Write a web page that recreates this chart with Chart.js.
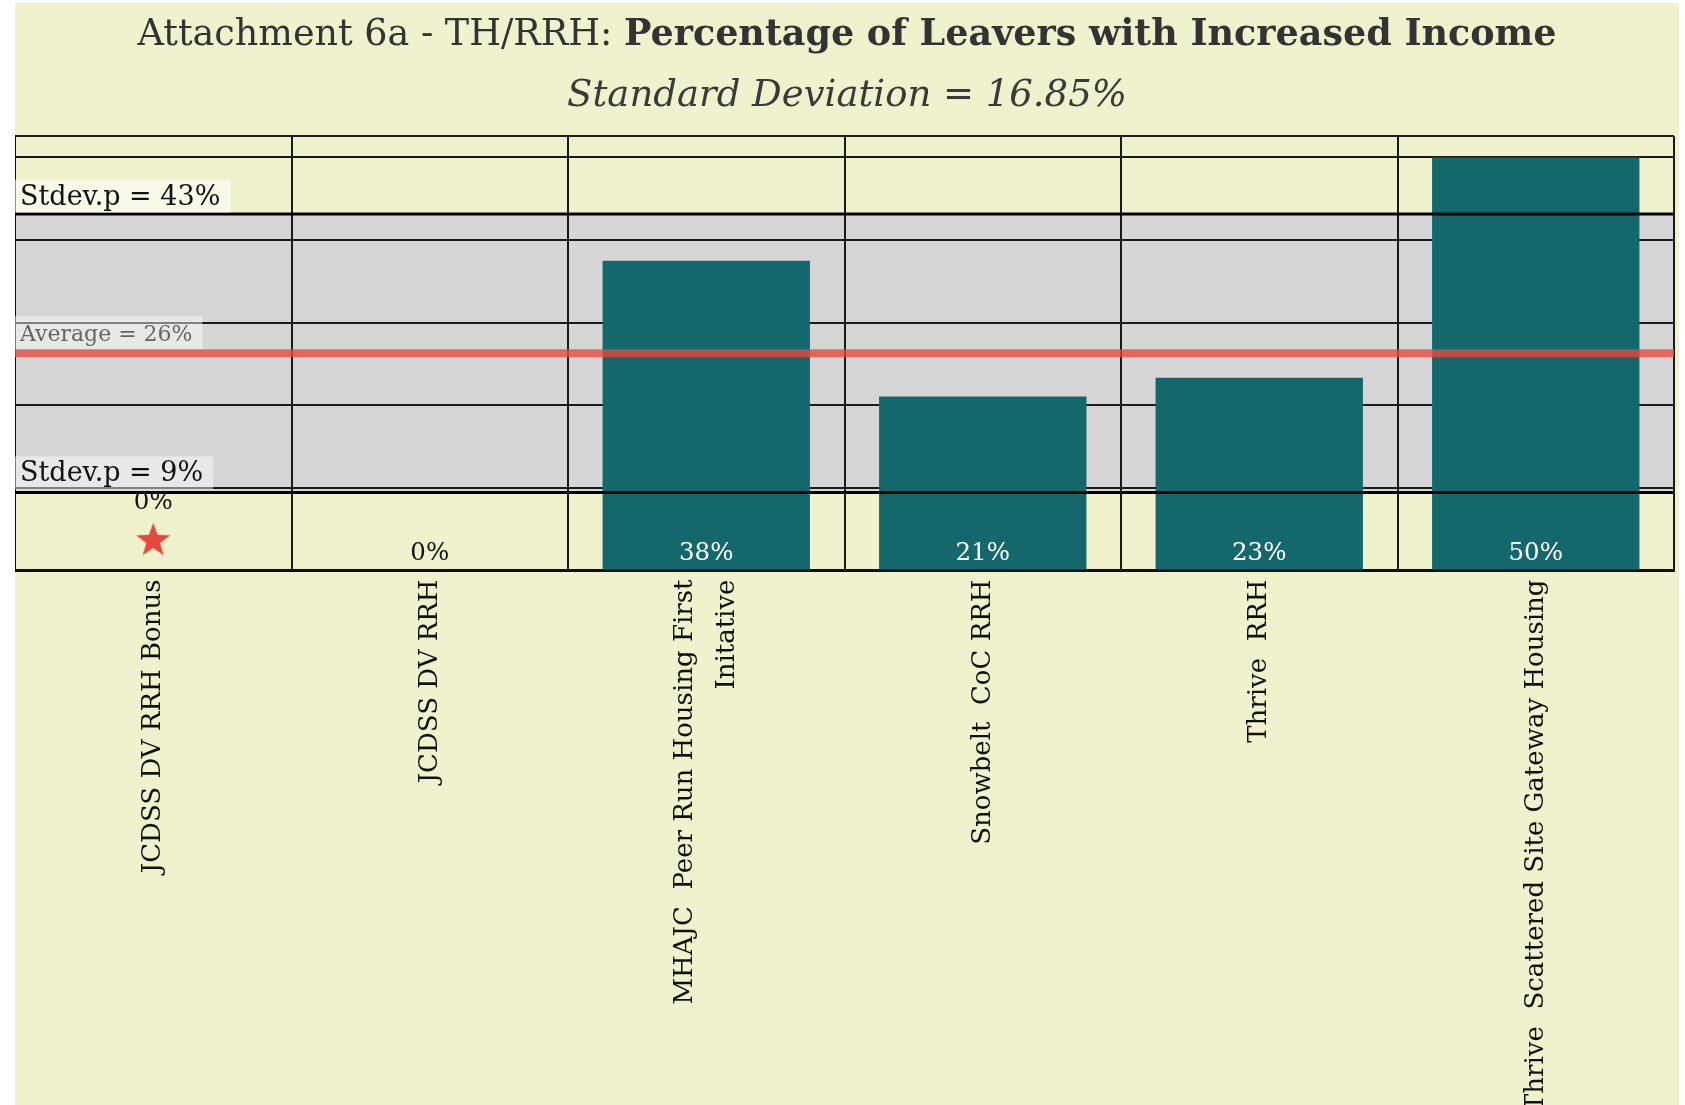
<!DOCTYPE html>
<html>
<head>
<meta charset="utf-8">
<script src="https://cdn.jsdelivr.net/npm/chart.js@4.4.1/dist/chart.umd.min.js"></script>
<style>
    html, body { margin: 0; padding: 0; background: #ffffff; }
    #wrap { position: absolute; left: 15px; top: 3px; width: 1664px; height: 1102px; background: #f0f2ce; overflow: hidden; }
    #wrap canvas { position: absolute; left: 0; top: 0; }
    .head { position: absolute; left: 0; width: 100%; text-align: center; font-family: 'DejaVu Serif', serif; color: #333333; white-space: nowrap; line-height: 42px; }
    #title { top: 9px; font-size: 36.5px; }
    #title b { font-weight: bold; }
    #subtitle { top: 70px; font-size: 37px; font-style: italic; color: #3a3a3a; }
</style>
</head>
<body>
<div id="wrap">
    <canvas id="chart" width="1664" height="1102"></canvas>
    <div id="title" class="head">Attachment 6a - TH/RRH: <b>Percentage of Leavers with Increased Income</b></div>
    <div id="subtitle" class="head">Standard Deviation = 16.85%</div>
</div>
<script>
// Data
const categories = [
    'JCDSS DV RRH Bonus',
    'JCDSS DV RRH',
    ['MHAJC  Peer Run Housing First', 'Initative'],
    'Snowbelt  CoC RRH',
    'Thrive  RRH',
    'Thrive  Scattered Site Gateway Housing'
];
const pctValues = [0, 0, 37.5, 21.05, 23.33, 50];
const starMarks = [3.6, null, null, null, null, null];
const avgValue = 26.3;
const sdValue = 16.85;
const yMax = 52.6;

const FONT = "'DejaVu Serif', serif";
const LABEL_SIZE = 26;
const LABEL_LINE = 1.6;

// filled star used as point style
const starImg = document.createElement('canvas');
starImg.width = 38;
starImg.height = 38;
(function () {
    const c = starImg.getContext('2d');
    const cx = 19, cy = 19, R = 18, r = 7.3;
    c.beginPath();
    for (let i = 0; i < 10; i++) {
        const rad = i % 2 === 0 ? R : r;
        const a = -Math.PI / 2 + i * Math.PI / 5;
        c.lineTo(cx + rad * Math.cos(a), cy + rad * Math.sin(a));
    }
    c.closePath();
    c.fillStyle = '#e5493e';
    c.fill();
})();

// grey band between avg - sd and avg + sd, under the grid
const bandPlugin = {
    id: 'band',
    beforeDraw(chart) {
        const { ctx, chartArea: a, scales: { x, y } } = chart;
        const top = y.getPixelForValue(avgValue + sdValue);
        const bot = y.getPixelForValue(avgValue - sdValue);
        ctx.save();
        ctx.fillStyle = '#d6d6d6';
        ctx.fillRect(a.left, top, a.right - a.left, bot - top);
        ctx.restore();

        // centre multi-line category labels on their tick
        const lh = LABEL_SIZE * LABEL_LINE;
        x.getLabelItems(a).forEach(it => {
            if (Array.isArray(it.label) && it.label.length > 1 && !it._centred) {
                it.options.translation[0] -= (it.label.length - 1) * lh / 2;
                it._centred = true;
            }
        });
    }
};

function boxLabel(ctx, text, x, bottom, font, color, bg) {
    ctx.font = font;
    const w = ctx.measureText(text).width;
    ctx.fillStyle = bg;
    ctx.fillRect(x, bottom - 33, w + 15, 33);
    ctx.fillStyle = color;
    ctx.textAlign = 'left';
    ctx.textBaseline = 'alphabetic';
    ctx.fillText(text, x + 5, bottom - 8);
}

// lines, boxes and value labels on top of the bars
const overlayPlugin = {
    id: 'overlay',
    afterDatasetsDraw(chart) {
        const { ctx, chartArea: a, scales: { y } } = chart;
        const hi = y.getPixelForValue(avgValue + sdValue);
        const lo = y.getPixelForValue(avgValue - sdValue);
        const mid = y.getPixelForValue(avgValue);
        ctx.save();
        ctx.strokeStyle = '#000000';
        ctx.lineWidth = 3;
        [hi, lo].forEach(p => {
            ctx.beginPath();
            ctx.moveTo(a.left, p);
            ctx.lineTo(a.right, p);
            ctx.stroke();
        });
        ctx.strokeStyle = 'rgba(229, 73, 62, 0.79)';
        ctx.lineWidth = 8;
        ctx.beginPath();
        ctx.moveTo(a.left, mid);
        ctx.lineTo(a.right, mid);
        ctx.stroke();

        boxLabel(ctx, 'Stdev.p = ' + Math.round(avgValue + sdValue) + '%', a.left, hi - 1.5,
            '27px ' + FONT, '#111111', 'rgba(255,255,255,0.55)');
        boxLabel(ctx, 'Average = ' + Math.round(avgValue) + '%', a.left, mid - 4,
            '22px ' + FONT, '#666666', 'rgba(255,255,255,0.45)');
        boxLabel(ctx, 'Stdev.p = ' + Math.round(avgValue - sdValue) + '%', a.left, lo - 3,
            '27px ' + FONT, '#111111', 'rgba(255,255,255,0.45)');

        // value labels
        const bars = chart.getDatasetMeta(0).data;
        const stars = chart.getDatasetMeta(1).data;
        ctx.font = '24.5px ' + FONT;
        ctx.textAlign = 'center';
        ctx.textBaseline = 'middle';
        bars.forEach((bar, i) => {
            const v = pctValues[i];
            const txt = Math.round(v) + '%';
            if (starMarks[i] != null) {
                ctx.fillStyle = '#111111';
                ctx.fillText(txt, stars[i].x, stars[i].y - 38);
            } else {
                ctx.fillStyle = v > 0 ? '#ffffff' : '#111111';
                ctx.fillText(txt, bar.x, y.getPixelForValue(0) - 17);
            }
        });
        ctx.restore();
    }
};

new Chart(document.getElementById('chart'), {
    type: 'bar',
    data: {
        labels: categories,
        datasets: [{
            data: pctValues,
            backgroundColor: '#14686b',
            categoryPercentage: 1,
            barPercentage: 0.75,
            order: 2
        }, {
            type: 'line',
            data: starMarks,
            showLine: false,
            pointStyle: starImg,
            pointRadius: 18,
            order: 1
        }]
    },
    options: {
        responsive: false,
        animation: false,
        layout: { autoPadding: false, padding: { top: 133, right: 5, left: 0, bottom: 0 } },
        plugins: {
            legend: { display: false },
            tooltip: { enabled: false }
        },
        scales: {
            x: {
                grid: { offset: true, color: '#1a1a1a', lineWidth: 2, drawTicks: false },
                border: { color: '#111111', width: 3 },
                ticks: {
                    autoSkip: false,
                    minRotation: 90,
                    maxRotation: 90,
                    padding: 9,
                    color: '#111111',
                    font: { family: FONT, size: LABEL_SIZE, lineHeight: LABEL_LINE }
                },
                afterFit(scale) {
                    scale.height = 534.5;
                    scale.paddingLeft = 0;
                    scale.paddingRight = 0;
                }
            },
            y: {
                min: 0,
                max: yMax,
                grid: { color: '#1a1a1a', lineWidth: 2, drawTicks: false },
                border: { color: '#111111', width: 2 },
                ticks: { display: false, stepSize: 10 },
                afterFit(scale) { scale.width = 0; }
            }
        }
    },
    plugins: [bandPlugin, overlayPlugin]
});
</script>
</body>
</html>
